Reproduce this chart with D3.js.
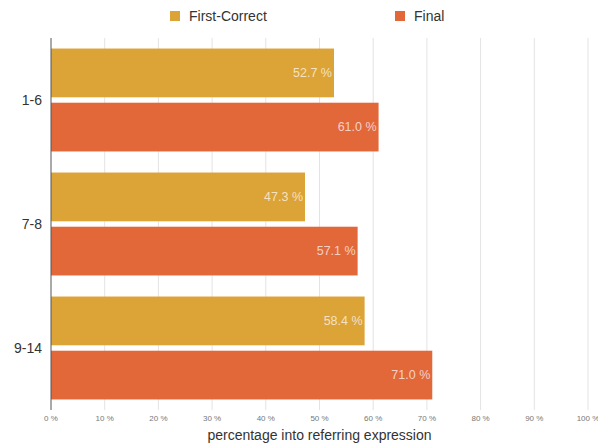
<!DOCTYPE html>
<html>
<head>
<meta charset="utf-8">
<script src="https://cdn.jsdelivr.net/npm/d3@7"></script>
<style>
  body { margin: 0; background: #fff; }
  svg { font-family: "Helvetica Neue", "Liberation Sans", Arial, sans-serif; }
</style>
</head>
<body>
<svg class="chart" width="598" height="448"></svg>
<script>
var groups = ["1-6", "7-8", "9-14"];
var seriesNames = ["First-Correct", "Final"];
var firstCorrect = [52.7, 47.3, 58.4];
var finalValues = [61.0, 57.1, 71.0];
var xTicks = [0, 10, 20, 30, 40, 50, 60, 70, 80, 90, 100];
var colors = ["#dca337", "#e2683a"];

var data = groups.map(function (g, i) {
  return { group: g, values: [firstCorrect[i], finalValues[i]] };
});

var svg = d3.select("svg.chart"),
    margin = {top: 38, right: 10, bottom: 38, left: 51},
    width = +svg.attr("width") - margin.left - margin.right,
    height = +svg.attr("height") - margin.top - margin.bottom,
    g = svg.append("g").attr("transform", "translate(" + margin.left + "," + margin.top + ")");

var x = d3.scaleLinear()
    .domain([0, 100])
    .range([0, 537]);

var y0 = d3.scaleBand()
    .domain(groups)
    .range([0, height])
    .paddingInner(0.17)
    .paddingOuter(0.085);

var y1 = d3.scaleBand()
    .domain([0, 1])
    .range([0, y0.bandwidth()])
    .paddingInner(0.1);

// gridlines
g.append("g")
    .selectAll("line")
    .data(xTicks.slice(1))
    .enter().append("line")
      .attr("x1", function (d) { return x(d); })
      .attr("x2", function (d) { return x(d); })
      .attr("y1", 0)
      .attr("y2", height)
      .attr("stroke", "#e3e3e3")
      .attr("stroke-width", 1);

var group = g.selectAll(".group")
  .data(data)
  .enter().append("g")
    .attr("class", "group")
    .attr("transform", function (d) { return "translate(0," + y0(d.group) + ")"; });

group.selectAll("rect")
  .data(function (d) { return d.values; })
  .enter().append("rect")
    .attr("x", 0)
    .attr("y", function (d, i) { return y1(i); })
    .attr("width", function (d) { return x(d); })
    .attr("height", y1.bandwidth())
    .attr("fill", function (d, i) { return colors[i]; });

group.selectAll("text.value")
  .data(function (d) { return d.values; })
  .enter().append("text")
    .attr("class", "value")
    .attr("x", function (d) { return x(d) - 2; })
    .attr("y", function (d, i) { return y1(i) + y1.bandwidth() / 2; })
    .attr("dy", "0.35em")
    .attr("text-anchor", "end")
    .attr("fill", "#fff")
    .attr("fill-opacity", 0.7)
    .style("font-size", "12.5px")
    .text(function (d) { return d.toFixed(1) + " %"; });

// category labels
g.selectAll("text.cat")
  .data(groups)
  .enter().append("text")
    .attr("class", "cat")
    .attr("x", -9)
    .attr("y", function (d) { return y0(d) + y0.bandwidth() / 2; })
    .attr("dy", "0.35em")
    .attr("text-anchor", "end")
    .attr("fill", "#333")
    .style("font-size", "14px")
    .text(function (d) { return d; });

// y axis line
g.append("line")
    .attr("x1", 0).attr("x2", 0)
    .attr("y1", 0).attr("y2", height)
    .attr("stroke", "#555")
    .attr("stroke-width", 1);

// x tick labels
g.selectAll("text.tick")
  .data(xTicks)
  .enter().append("text")
    .attr("class", "tick")
    .attr("x", function (d) { return x(d); })
    .attr("y", height + 11)
    .attr("text-anchor", "middle")
    .attr("fill", "#777")
    .style("font-size", "8px")
    .text(function (d) { return d + " %"; });

g.append("text")
    .attr("x", x(50))
    .attr("y", height + 30)
    .attr("text-anchor", "middle")
    .attr("fill", "#333")
    .style("font-size", "14px")
    .text("percentage into referring expression");

// legend
var legendX = [170, 395];
var legend = svg.selectAll(".legend")
  .data(seriesNames)
  .enter().append("g")
    .attr("class", "legend")
    .attr("transform", function (d, i) { return "translate(" + legendX[i] + ",11)"; });

legend.append("rect")
    .attr("width", 10)
    .attr("height", 10)
    .attr("fill", function (d, i) { return colors[i]; });

legend.append("text")
    .attr("x", 19)
    .attr("y", 5)
    .attr("dy", "0.35em")
    .attr("fill", "#333")
    .style("font-size", "14px")
    .text(function (d) { return d; });
</script>
</body>
</html>
